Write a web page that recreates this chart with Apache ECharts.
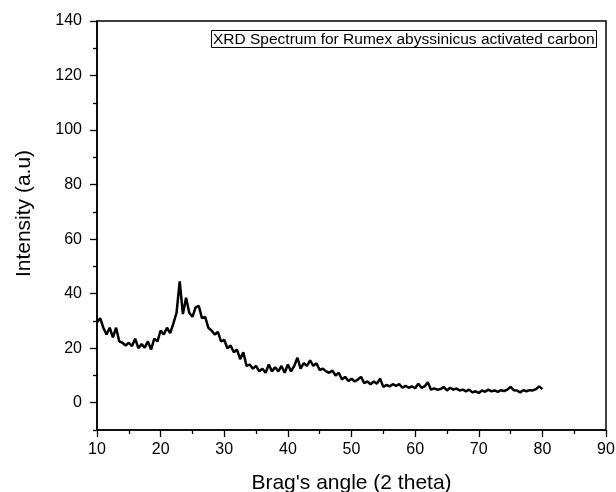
<!DOCTYPE html>
<html>
<head>
<meta charset="utf-8">
<script src="https://cdn.jsdelivr.net/npm/echarts@6/dist/echarts.min.js"></script>
<style>html,body{margin:0;padding:0;background:#fff}#c{width:616px;height:492px}</style>
</head>
<body>
<div id="c"></div>
<script>
const angles = [10.0,10.5,11.0,11.5,12.0,12.5,13.0,13.5,14.0,14.5,15.0,15.5,16.0,16.5,17.0,17.5,18.0,18.5,19.0,19.5,
20.0,20.5,21.0,21.5,22.0,22.5,23.0,23.5,24.0,24.5,25.0,25.5,26.0,26.5,27.0,27.5,28.0,28.5,29.0,29.5,
30.0,30.5,31.0,31.5,32.0,32.5,33.0,33.5,34.0,34.5,35.0,35.5,36.0,36.5,37.0,37.5,38.0,38.5,39.0,39.5,
40.0,40.5,41.0,41.5,42.0,42.5,43.0,43.5,44.0,44.5,45.0,45.5,46.0,46.5,47.0,47.5,48.0,48.5,49.0,49.5,
50.0,50.5,51.0,51.5,52.0,52.5,53.0,53.5,54.0,54.5,55.0,55.5,56.0,56.5,57.0,57.5,58.0,58.5,59.0,59.5,
60.0,60.5,61.0,61.5,62.0,62.5,63.0,63.5,64.0,64.5,65.0,65.5,66.0,66.5,67.0,67.5,68.0,68.5,69.0,69.5,
70.0,70.5,71.0,71.5,72.0,72.5,73.0,73.5,74.0,74.5,75.0,75.5,76.0,76.5,77.0,77.5,78.0,78.5,79.0,79.5,80.0];
const intensity = [29.5,31.0,27.5,25.0,27.5,24.0,27.5,22.5,22.0,21.0,22.0,20.8,23.5,20.0,21.5,20.2,22.5,19.5,23.5,22.5,
26.5,25.0,27.5,25.5,29.0,33.0,44.5,32.5,38.5,33.0,31.5,35.0,35.5,31.0,31.5,27.5,26.5,25.0,26.0,22.5,
23.0,20.0,21.0,18.5,19.5,16.0,18.5,13.5,14.0,12.5,13.5,11.5,12.5,11.0,14.0,11.5,13.0,11.5,13.5,11.0,
14.0,11.5,13.5,16.5,12.5,14.5,13.5,15.5,13.5,14.5,12.0,12.5,11.5,11.0,11.8,10.0,11.0,8.5,9.5,8.0,
8.8,7.8,8.5,9.5,7.2,7.8,6.8,7.8,7.0,8.8,5.8,6.5,6.0,6.8,6.2,6.8,5.5,6.2,5.5,6.0,
5.3,7.0,5.5,6.0,7.5,4.8,5.3,4.8,5.0,5.8,4.5,5.5,4.8,5.2,4.5,4.8,4.2,4.8,3.8,4.2,
3.6,4.5,4.0,4.8,4.2,4.5,4.0,4.6,4.3,4.8,5.8,4.6,4.5,3.8,4.6,4.2,4.6,4.5,5.0,6.0,5.0];
const xTickValues = [10,20,30,40,50,60,70,80,90];
const yTickValues = [0,20,40,60,80,100,120,140];
const yMinorValues = [-10,10,30,50,70,90,110,130];
const titleText = 'XRD Spectrum for Rumex abyssinicus activated carbon';
const xName = "Brag's angle (2 theta)";
const yName = 'Intensity (a.u)';

const FONT = 'Liberation Sans, Arial, sans-serif';
const chart = echarts.init(document.getElementById('c'), null, {renderer: 'canvas'});
chart.setOption({
  animation: false,
  backgroundColor: '#fff',
  title: {
    text: titleText,
    left: 211, top: 32,
    padding: [1, 2, 0, 2],
    borderColor: '#000', borderWidth: 1,
    textStyle: {fontFamily: FONT, fontSize: 15.5, fontWeight: 'normal', color: '#000', lineHeight: 13}
  },
  grid: {left: 97, right: 10, top: 21, bottom: 62, containLabel: false, outerBoundsMode: 'none',
    show: true, borderColor: '#000', borderWidth: 1.5, backgroundColor: 'transparent'},
  xAxis: {
    type: 'value', min: 10, max: 90, interval: 10,
    name: xName, nameLocation: 'middle', nameGap: 43,
    nameTextStyle: {fontFamily: FONT, fontSize: 21, color: '#000'},
    axisLine: {show: true, onZero: false, lineStyle: {color: '#000', width: 1.5}},
    axisTick: {show: true, inside: false, length: 7, lineStyle: {color: '#000', width: 1.3}},
    minorTick: {show: true, splitNumber: 2, length: 4, lineStyle: {color: '#000', width: 1.3}},
    axisLabel: {fontFamily: FONT, fontSize: 16, color: '#000', margin: 12,
      customValues: xTickValues},
    splitLine: {show: false}
  },
  yAxis: [{
    type: 'value', min: -10, max: 140,
    name: yName, nameLocation: 'middle', nameGap: 62,
    nameTextStyle: {fontFamily: FONT, fontSize: 21, color: '#000', padding: [0, 0, 0, 24]},
    axisLine: {show: true, onZero: false, lineStyle: {color: '#000', width: 1.5}},
    axisTick: {show: true, inside: false, length: 7, customValues: yTickValues, lineStyle: {color: '#000', width: 1.3}},
    axisLabel: {fontFamily: FONT, fontSize: 16, color: '#000', margin: 15, customValues: yTickValues},
    splitLine: {show: false}
  }, {
    type: 'value', min: -10, max: 140, position: 'left', offset: 0,
    axisLine: {show: false},
    axisTick: {show: true, inside: false, length: 4, customValues: yMinorValues, lineStyle: {color: '#000', width: 1.3}},
    axisLabel: {show: false},
    splitLine: {show: false}
  }],
  series: [{
    type: 'line',
    data: angles.map((a, i) => [a, intensity[i]]),
    showSymbol: false,
    lineStyle: {color: '#000', width: 2.5},
    yAxisIndex: 0
  }]
});
</script>
</body>
</html>
